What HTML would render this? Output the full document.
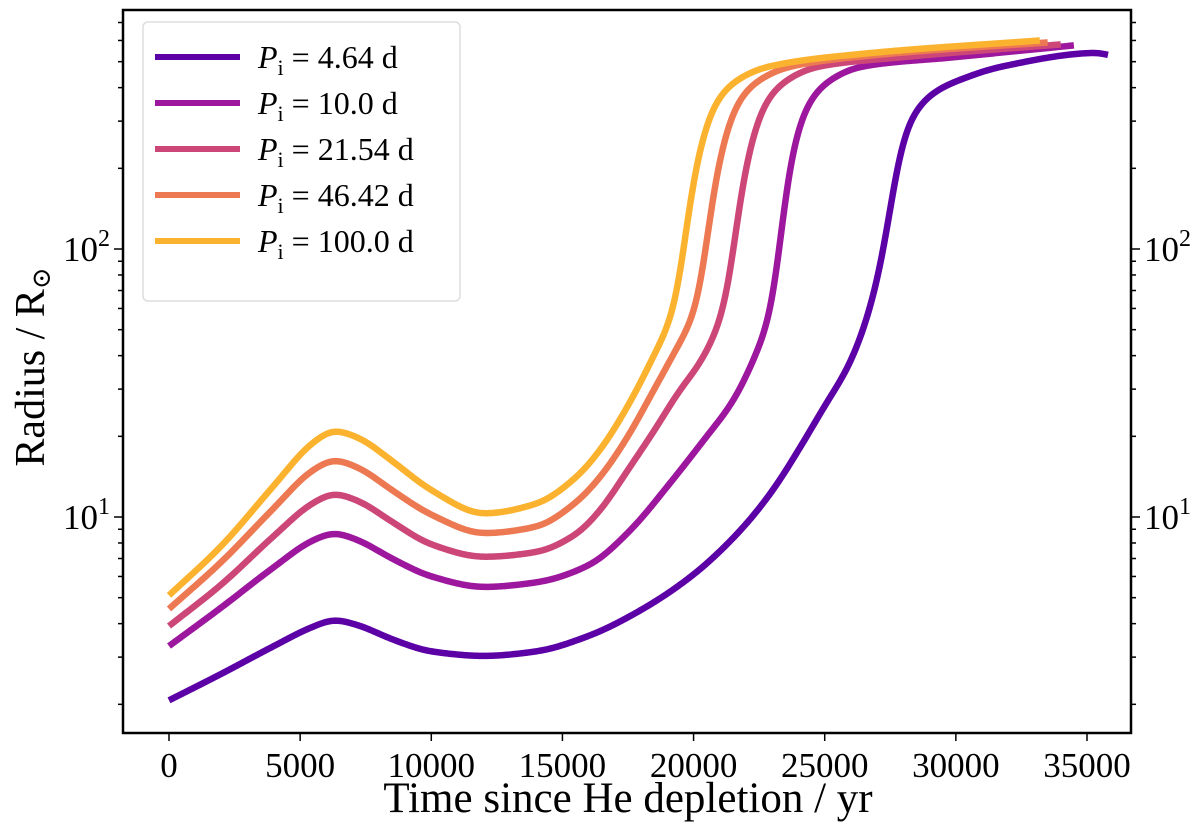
<!DOCTYPE html>
<html><head><meta charset="utf-8"><style>
body{margin:0;background:#fff}
svg text{font-family:"Liberation Serif","DejaVu Serif",serif;fill:#000}
</style></head><body>
<svg id="chart" width="1200" height="830"></svg>
<script>
const seriesLabels=["4.64","10.0","21.54","46.42","100.0"];
const seriesColors=["#5c01a6","#9c179e","#cc4778","#ed7953","#fbb32f"];
const t1=[0,2000,4000,5500,6300,7200,8500,10000,12000,14000,16000,18000,20000,21780,23000,24065,25000,25970,26850,27385,27765,28260,29140,30435,31690,35500,35800];
const r1=[2.07,2.6,3.3,3.9,4.13,3.95,3.5,3.15,3.03,3.15,3.6,4.5,6.1,8.9,12.5,18.2,26,37.6,66,118,209,303,382,438,478,540,530];
const t2=[0,2000,4000,5500,6300,7200,8500,10000,12000,14000,16000,17580,19000,20500,21500,22235,23075,23470,23800,24300,25060,26350,30000,34500];
const r2=[3.3,4.6,6.5,8.2,8.7,8.2,7.0,6.0,5.48,5.7,6.6,8.9,13,20,27,37.6,66,156,240,339,417,478,520,575];
const t3=[0,2000,4000,5500,6300,7200,8500,10000,12000,14000,15500,16440,17500,18500,19500,20245,21275,21770,22150,22650,23410,24700,28000,34000];
const r3=[3.92,5.6,8.5,11.3,12.2,11.5,9.6,7.9,7.1,7.4,8.6,10.6,15,21,30,37.6,66,156,240,339,417,478,520,580];
const t4=[0,2000,4000,5500,6300,7200,8500,10000,12000,14000,15500,16440,17500,18500,19200,20215,20710,21090,21590,22350,23640,27000,33500];
const r4=[4.54,6.8,10.8,15,16.3,15.3,12.6,10.2,8.7,9.2,11.3,14.1,20,30,40,66,156,240,339,417,478,530,590];
const t5=[0,2000,4000,5500,6300,7200,8500,10000,12000,14000,15500,16440,17400,18345,19375,19870,20250,20750,21510,22800,26620,33200];
const r5=[5.1,7.8,13.1,19,21,19.8,16.2,12.6,10.3,11.2,14,17.8,25,37.6,66,156,240,339,417,478,537,600];
const seriesT=[t1,t2,t3,t4,t5], seriesR=[r1,r2,r3,r4,r5];
const xTicks=[0,5000,10000,15000,20000,25000,30000,35000];

const L=123,R=1131,T=10,B=733;
const X=v=>169+(v/35000)*(1087-169);
const Y=v=>517-(Math.log10(v)-1)*268;
const svg=document.getElementById('chart');const NS='http://www.w3.org/2000/svg';
function el(tag,a,p){const e=document.createElementNS(NS,tag);for(const k in a)e.setAttribute(k,a[k]);(p||svg).appendChild(e);return e;}

function monotone(xs,ys){
  const n=xs.length,d=[],m=new Array(n);
  for(let i=0;i<n-1;i++)d.push((ys[i+1]-ys[i])/(xs[i+1]-xs[i]));
  m[0]=d[0];m[n-1]=d[n-2];
  for(let i=1;i<n-1;i++){ if(d[i-1]*d[i]<=0)m[i]=0; else {const h0=xs[i]-xs[i-1],h1=xs[i+1]-xs[i];const w1=2*h1+h0,w2=h1+2*h0;m[i]=(w1+w2)/(w1/d[i-1]+w2/d[i]);} }
  return x=>{let i=0;while(i<n-2&&x>xs[i+1])i++;const h=xs[i+1]-xs[i],s=(x-xs[i])/h;
    const h00=2*s*s*s-3*s*s+1,h10=s*s*s-2*s*s+s,h01=-2*s*s*s+3*s*s,h11=s*s*s-s*s;
    return h00*ys[i]+h10*h*m[i]+h01*ys[i+1]+h11*h*m[i+1];};
}
seriesT.forEach((ts,i)=>{
  const f=monotone(ts,seriesR[i].map(v=>Math.log10(v)));
  const t0=ts[0],tn=ts[ts.length-1],N=700,dt=(tn-t0)/N;
  const raw=[];for(let k=0;k<=N;k++)raw.push(f(t0+dt*k));
  const sig=260/dt,W=Math.ceil(sig*3),sm=[];
  for(let k=0;k<=N;k++){let s=0,w=0;for(let j=-W;j<=W;j++){let q=k+j;let v;
      if(q<0)v=2*raw[0]-raw[-q]; else if(q>N)v=2*raw[N]-raw[2*N-q]; else v=raw[q];
      if(v===undefined)continue;const g=Math.exp(-j*j/(2*sig*sig));s+=g*v;w+=g;}
    sm.push(s/w);}
  let d='';
  for(let k=0;k<=N;k++){d+=(k?'L':'M')+X(t0+dt*k).toFixed(2)+','+Y(Math.pow(10,sm[k])).toFixed(2);}
  const p=el('path',{d,fill:'none',stroke:seriesColors[i],'stroke-width':6.5,'stroke-linejoin':'round'});
  
  
});

const fr=el('rect',{x:L,y:T,width:R-L,height:B-T,fill:'none',stroke:'#000','stroke-width':2.5});



xTicks.forEach(v=>{
  el('line',{x1:X(v),x2:X(v),y1:B,y2:B+8,stroke:'#000','stroke-width':1.5});
  const tx=el('text',{x:X(v),y:B+44,'font-size':35,'text-anchor':'middle'});tx.textContent=v;
  
  
});
[1,10,100].forEach(dec=>{for(let m=1;m<10;m++){const v=dec*m;const y=Y(v);if(y<T||y>B)continue;
  const len=m===1?9:5;
  el('line',{x1:L-len,x2:L,y1:y,y2:y,stroke:'#000','stroke-width':1.5});
  el('line',{x1:R,x2:R+len,y1:y,y2:y,stroke:'#000','stroke-width':1.5});
}});
[[10,'1'],[100,'2']].forEach(([v,e])=>{
  const y=Y(v);
  const a=el('text',{x:L-13,y:y+12,'font-size':35,'text-anchor':'end'});a.innerHTML='10<tspan dy="-15" font-size="24">'+e+'</tspan>';
  
  
  const b=el('text',{x:R+13,y:y+12,'font-size':35});b.innerHTML='10<tspan dy="-15" font-size="24">'+e+'</tspan>';
  
  
});
const xt=el('text',{x:628,y:812,'font-size':43,'text-anchor':'middle'});xt.textContent='Time since He depletion / yr';


const yt=el('text',{x:0,y:0,'font-size':42,'text-anchor':'middle',transform:'translate(44,367) rotate(-90)'});
yt.innerHTML='Radius / R<tspan font-size="26" dy="6">⊙</tspan>';



const lg=el('g',{});


el('rect',{x:143,y:22,width:317,height:279,rx:5,fill:'#fff',stroke:'#ddd','stroke-width':1.5},lg);
seriesLabels.forEach((s,i)=>{
  const y=57+i*46;
  const g=el('g',{},lg);
  
  
  el('line',{x1:155,x2:240,y1:y,y2:y,stroke:seriesColors[i],'stroke-width':6},g);
  const t=el('text',{x:258,y:y+11,'font-size':32},g);
  t.innerHTML='<tspan font-style="italic">P</tspan><tspan font-size="22" dy="7">i</tspan><tspan dy="-7" dx="8">=</tspan><tspan dx="8">'+s+' d</tspan>';
});
</script>
</body></html>
